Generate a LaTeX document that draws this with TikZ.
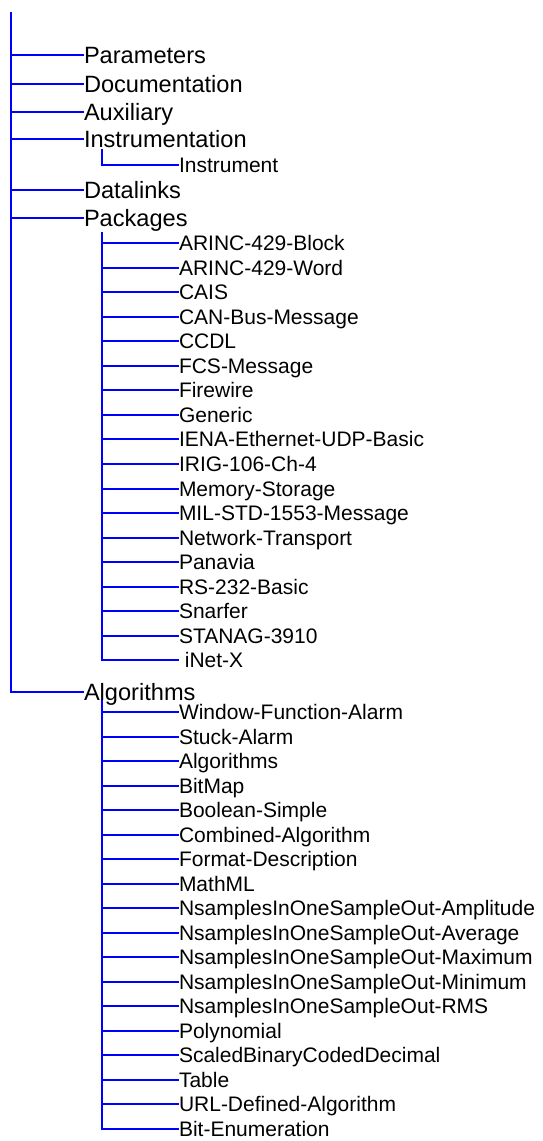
\documentclass[tikz,border=0pt]{standalone}
\usepackage{fontspec}
\setmainfont{Liberation Sans}
\begin{document}
\begin{tikzpicture}[x=1pt,y=-1pt,
  branch/.style={draw=blue, line width=2pt},
  toplabel/.style={font=\fontsize{23.6}{28}\selectfont, anchor=west, inner sep=0pt, outer sep=0pt, text height=16.9pt, text depth=0pt},
  leaf/.style={font=\fontsize{21}{25}\selectfont, anchor=west, inner sep=0pt, outer sep=0pt, text height=15pt, text depth=0pt}]
\useasboundingbox (0,0) rectangle (543,1141);
% root
\coordinate (root) at (11,12);
\node[toplabel] (param) at (84,55) {Parameters};
\node[toplabel] (doc) at (84,84) {Documentation};
\node[toplabel] (aux) at (84,112) {Auxiliary};
\node[toplabel] (instr) at (84,139) {Instrumentation};
\node[toplabel] (dlink) at (84,190) {Datalinks};
\node[toplabel] (pack) at (84,218) {Packages};
\node[toplabel] (algo) at (84,692) {Algorithms};
\foreach \n in {param,doc,aux,instr,dlink,pack,algo}
  \draw[branch] (root) |- (\n.west);
% instrumentation
\coordinate (instrv) at (102,149);
\node[leaf] (instrument) at (179,165) {Instrument};
\draw[branch] (instrv) |- (instrument.west);
% packages
\coordinate (packv) at (102,232);
\foreach \t [count=\i] in {ARINC-429-Block,ARINC-429-Word,CAIS,CAN-Bus-Message,CCDL,FCS-Message,Firewire,Generic,IENA-Ethernet-UDP-Basic,IRIG-106-Ch-4,Memory-Storage,MIL-STD-1553-Message,Network-Transport,Panavia,RS-232-Basic,Snarfer,STANAG-3910,\hspace*{0.278em}iNet-X}{
  \pgfmathsetmacro{\yy}{round(243+(\i-1)*24.55)}
  \node[leaf] (pk\i) at (179,\yy) {\t};
  \draw[branch] (packv) |- (pk\i.west);
}
% algorithms
\coordinate (algov) at (102,700);
\foreach \t [count=\i] in {Window-Function-Alarm,Stuck-Alarm,Algorithms,BitMap,Boolean-Simple,Combined-Algorithm,Format-Description,MathML,NsamplesInOneSampleOut-Amplitude,NsamplesInOneSampleOut-Average,NsamplesInOneSampleOut-Maximum,NsamplesInOneSampleOut-Minimum,NsamplesInOneSampleOut-RMS,Polynomial,ScaledBinaryCodedDecimal,Table,URL-Defined-Algorithm,Bit-Enumeration}{
  \pgfmathsetmacro{\yy}{round(712+(\i-1)*24.5)}
  \node[leaf] (al\i) at (179,\yy) {\t};
  \draw[branch] (algov) |- (al\i.west);
}
\end{tikzpicture}
\end{document}
